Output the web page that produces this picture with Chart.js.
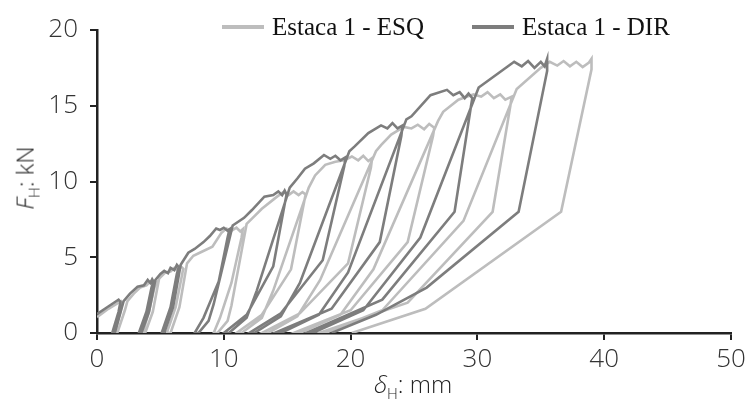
<!DOCTYPE html>
<html>
<head>
<meta charset="utf-8">
<script src="https://cdn.jsdelivr.net/npm/chart.js@4"></script>
<style>
  body { margin: 0; background: #fff; }
  #wrap { position: relative; width: 746px; height: 405px; }
  .leg { position: absolute; top: 12px; font-family: "Liberation Serif", serif; font-size: 25px; color: #111; white-space: nowrap; line-height: 30px; }
  .leg span.ln { display: inline-block; width: 42px; height: 4px; vertical-align: middle; margin-right: 8px; position: relative; top: -2px; }
  .ttl { position: absolute; font-family: "Open Sans", sans-serif; font-weight: 300; font-size: 24px; color: #222; white-space: nowrap; line-height: 30px; }
  .ttl sub { font-size: 15px; }
</style>
</head>
<body>
<div id="wrap">
  <canvas id="myChart" width="746" height="405"></canvas>
  <div class="leg" style="left:222px;"><span class="ln" style="background:#bdbdbd"></span>Estaca 1 - ESQ</div>
  <div class="leg" style="left:472px;"><span class="ln" style="background:#7d7d7d"></span>Estaca 1 - DIR</div>
  <div class="ttl" style="left:413px; top:369px; transform: translateX(-50%);"><i>δ</i><sub>H</sub>: mm</div>
  <div class="ttl" style="left:29px; top:178px; transform: translate(-50%, -50%) rotate(-90deg);"><i>F</i><sub>H</sub>: kN</div>
</div>
<script>
const xTicks = [0, 10, 20, 30, 40, 50];
const yTicks = [0, 5, 10, 15, 20];

// Estaca 1 - ESQ (claro)
const esqX = [0, 0.9, 1.9, 2.0, 1.85, 1.4, 1.6, 2.2, 2.4,
  2.9, 3.4, 3.9, 4.2, 4.45, 4.65, 4.5, 4.1, 3.6, 3.8, 4.4, 4.9,
  5.4, 5.8, 6.1, 6.4, 6.6, 6.8, 6.7, 6.2, 5.5, 5.8, 6.5, 7.1,
  7.6, 8.1, 9.1, 9.8, 10.2, 10.6, 11.0, 11.3, 11.5, 11.4, 10.6, 9.7, 9.2, 9.5, 10.3, 10.6, 11.8,
  12.4, 13.0, 14.2, 14.7, 15.1, 15.5, 15.9, 16.2, 16.45, 16.3, 15.3, 13.0, 11.0, 11.4, 13.0, 13.9, 16.7,
  17.2, 18.0, 18.8, 19.5, 20.1, 20.6, 21.0, 21.4, 21.7, 21.6, 19.8, 16.0, 13.0, 13.5, 15.8, 17.6, 22.0,
  22.4, 23.2, 24.2, 24.8, 25.3, 25.8, 26.2, 26.6, 26.5, 24.5, 20.0, 15.5, 16.0, 19.2, 21.8, 26.9,
  27.3, 28.5, 29.7, 30.3, 30.8, 31.3, 31.8, 32.2, 32.7, 32.6, 31.2, 24.5, 17.5, 18.0, 22.5, 28.9, 33.1,
  35.0, 35.7, 36.3, 36.8, 37.3, 37.8, 38.3, 38.8, 39.0, 39.0, 36.6, 25.9, 20.1];
const esqY = [1.05, 1.6, 2.1, 1.95, 1.4, 0, 0, 1.5, 2.1,
  2.6, 3.0, 3.15, 3.4, 3.25, 3.35, 2.9, 1.4, 0, 0, 1.4, 3.6,
  4.0, 4.05, 4.3, 4.15, 4.4, 4.25, 3.8, 1.7, 0, 0, 1.7, 4.6,
  5.1, 5.3, 5.7, 6.6, 6.9, 6.75, 6.95, 6.7, 6.85, 6.3, 3.3, 1.0, 0, 0, 0.8, 1.8, 7.2,
  7.7, 8.2, 9.0, 9.3, 9.1, 9.35, 9.1, 9.3, 9.15, 8.5, 4.2, 1.2, 0, 0, 1.0, 2.8, 9.6,
  10.4, 11.1, 11.3, 11.4, 11.65, 11.4, 11.7, 11.35, 11.55, 10.9, 4.6, 1.3, 0, 0, 1.1, 3.5, 12.0,
  12.4, 13.1, 13.6, 13.5, 13.75, 13.45, 13.8, 13.55, 13.0, 6.0, 1.5, 0, 0, 1.2, 4.2, 14.0,
  14.6, 15.4, 15.75, 15.6, 15.9, 15.5, 15.75, 15.4, 15.6, 15.0, 8.0, 2.0, 0, 0, 1.5, 7.4, 16.1,
  17.5, 17.9, 17.65, 17.95, 17.6, 17.9, 17.55, 17.85, 18.1, 17.4, 8.0, 1.6, 0];

// Estaca 1 - DIR (escuro)
const dirX = [0, 0.8, 1.7, 1.85, 1.7, 1.2, 1.4, 1.9, 2.1,
  2.6, 3.2, 3.7, 4.0, 4.2, 4.35, 4.45, 4.3, 3.9, 3.3, 3.5, 4.1, 4.6,
  5.0, 5.3, 5.6, 5.8, 6.1, 6.3, 6.45, 6.3, 5.8, 5.1, 5.3, 6.0, 6.6,
  7.2, 7.7, 8.4, 8.9, 9.4, 9.7, 10.0, 10.3, 10.45, 10.3, 9.6, 8.4, 7.7, 8.0, 8.8, 9.2, 10.7,
  11.6, 12.2, 13.2, 13.9, 14.3, 14.6, 14.8, 14.95, 14.8, 13.9, 11.8, 10.0, 10.4, 11.8, 12.6, 15.2,
  15.8, 16.4, 17.1, 17.9, 18.4, 18.8, 19.2, 19.6, 19.5, 17.8, 14.5, 12.0, 12.4, 14.5, 16.0, 19.9,
  20.3, 21.4, 22.4, 22.9, 23.3, 23.7, 24.1, 24.0, 22.3, 18.5, 14.0, 14.5, 17.5, 19.8, 24.4,
  24.8, 26.3, 27.6, 28.1, 28.6, 29.0, 29.3, 29.6, 29.5, 28.2, 22.5, 16.5, 17.0, 21.0, 25.5, 30.1,
  32.9, 33.5, 34.0, 34.5, 35.0, 35.3, 35.5, 35.5, 33.25, 26.0, 22.0, 18.5];
const dirY = [1.25, 1.7, 2.2, 2.05, 1.4, 0, 0, 1.5, 2.1,
  2.6, 3.05, 3.15, 3.5, 3.3, 3.55, 3.4, 3.0, 1.4, 0, 0, 1.4, 3.5,
  3.9, 4.1, 3.95, 4.3, 4.15, 4.5, 4.35, 3.9, 1.7, 0, 0, 1.7, 4.5,
  5.3, 5.55, 6.0, 6.4, 6.9, 6.8, 6.95, 6.75, 6.85, 6.3, 3.4, 1.0, 0, 0, 0.8, 1.9, 7.1,
  7.6, 8.1, 9.0, 9.1, 9.35, 9.1, 9.4, 9.15, 8.5, 4.4, 1.2, 0, 0, 1.0, 2.8, 9.6,
  10.2, 10.85, 11.2, 11.75, 11.5, 11.7, 11.4, 11.6, 11.0, 4.8, 1.3, 0, 0, 1.1, 3.3, 12.0,
  12.3, 13.2, 13.7, 13.5, 13.85, 13.5, 13.7, 13.0, 6.0, 1.6, 0, 0, 1.2, 4.0, 14.1,
  14.3, 15.7, 16.05, 15.7, 15.9, 15.5, 15.8, 15.5, 15.0, 8.0, 2.2, 0, 0, 1.5, 6.3, 16.2,
  17.9, 17.6, 17.95, 17.5, 17.9, 17.6, 18.1, 17.3, 8.0, 3.0, 1.2, 0];

function pts(xs, ys) {
  return xs.map((x, i) => ({ x: x, y: ys[i] }));
}

const tickFont = { family: 'Open Sans', size: 26, weight: '300' };

const ctx = document.getElementById('myChart');
new Chart(ctx, {
  type: 'scatter',
  data: {
    datasets: [{
      label: 'Estaca 1 - ESQ',
      data: pts(esqX, esqY),
      borderColor: '#bdbdbd',
      borderWidth: 2.6,
      showLine: true,
      pointRadius: 0,
      order: 2
    }, {
      label: 'Estaca 1 - DIR',
      data: pts(dirX, dirY),
      borderColor: '#7d7d7d',
      borderWidth: 2.6,
      showLine: true,
      pointRadius: 0,
      order: 1
    }]
  },
  options: {
    responsive: false,
    animation: false,
    layout: { padding: { top: 30, right: 0, left: 0, bottom: 0 } },
    plugins: { legend: { display: false }, tooltip: { enabled: false } },
    scales: {
      x: {
        type: 'linear', min: 0, max: 50,
        afterBuildTicks: (s) => { s.ticks = xTicks.map(v => ({ value: v })); },
        afterFit: (s) => { s.height = 72; s.paddingRight = 15; },
        ticks: { font: tickFont, color: '#333', padding: 4 },
        grid: { drawOnChartArea: false, tickLength: 7, color: '#222', lineWidth: 2 },
        border: { color: '#222', width: 2.5 }
      },
      y: {
        min: 0, max: 20,
        afterBuildTicks: (s) => { s.ticks = yTicks.map(v => ({ value: v })); },
        afterFit: (s) => { s.width = 97; },
        ticks: { font: tickFont, color: '#333', padding: 12 },
        grid: { drawOnChartArea: false, tickLength: 7, color: '#222', lineWidth: 2 },
        border: { color: '#222', width: 2.5 }
      }
    }
  }
});
</script>
</body>
</html>
